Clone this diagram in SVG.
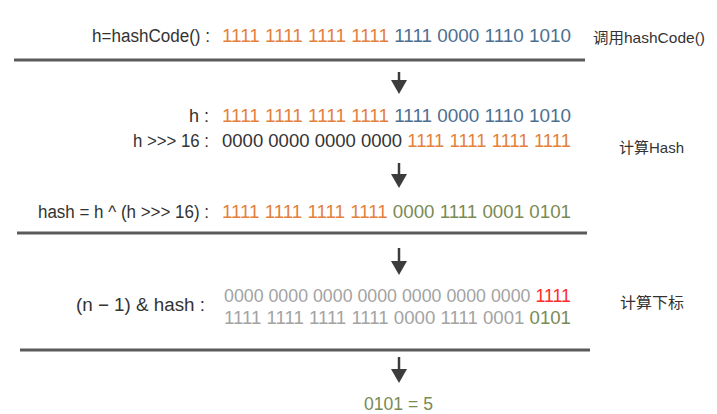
<svg xmlns="http://www.w3.org/2000/svg" width="717" height="414" viewBox="0 0 717 414">
<style>
text{font-family:"Liberation Sans","Noto Sans CJK SC",sans-serif;font-size:18px;fill:#333}
.lbl{text-anchor:end}
.bits{font-size:18.5px}
.bits2{font-size:17.5px}
.side{font-size:15px;fill:#333}
.o{fill:#e47f3c}
.b{fill:#4b6f90}
.g{fill:#7a8a55}
.k{fill:#333}
.gr{fill:#a3a3a3}
.r{fill:#ff2a2a}
.sep{stroke:#5a5a5a;stroke-width:3}
.arr{stroke:#3c3c3c;stroke-width:2.5;fill:none}
</style>
<defs>
<marker id="ah" markerUnits="userSpaceOnUse" markerWidth="16" markerHeight="18" refX="0" refY="8" orient="auto" viewBox="0 0 16 16">
<path d="M0,0 L14,8 L0,16 Z" fill="#3c3c3c"/>
</marker>
</defs>
<rect width="717" height="414" fill="#fff"/>
<g id="step-hashcode">
<text class="lbl" x="210" y="42" textLength="118" lengthAdjust="spacingAndGlyphs">h=hashCode() :</text>
<text class="bits" x="222" y="42" textLength="349" lengthAdjust="spacingAndGlyphs"><tspan class="o">1111 1111 1111 1111 </tspan><tspan class="b">1111 0000 1110 1010</tspan></text>
<text class="side" x="593" y="43" textLength="112" lengthAdjust="spacingAndGlyphs">调用hashCode()</text>
</g>
<g id="step-hash">
<text class="lbl" x="209" y="122">h :</text>
<text class="bits" x="222" y="122" textLength="349" lengthAdjust="spacingAndGlyphs"><tspan class="o">1111 1111 1111 1111 </tspan><tspan class="b">1111 0000 1110 1010</tspan></text>
<text class="lbl" x="209" y="147" textLength="76" lengthAdjust="spacingAndGlyphs">h &gt;&gt;&gt; 16 :</text>
<text class="bits" x="222" y="147" textLength="349" lengthAdjust="spacingAndGlyphs"><tspan class="k">0000 0000 0000 0000 </tspan><tspan class="o">1111 1111 1111 1111</tspan></text>
<text class="side" x="619" y="153" textLength="65" lengthAdjust="spacingAndGlyphs">计算Hash</text>
<text class="lbl" x="209" y="218" textLength="171" lengthAdjust="spacingAndGlyphs">hash = h ^ (h &gt;&gt;&gt; 16) :</text>
<text class="bits" x="222" y="218" textLength="349" lengthAdjust="spacingAndGlyphs"><tspan class="o">1111 1111 1111 1111 </tspan><tspan class="g">0000 1111 0001 0101</tspan></text>
</g>
<g id="step-index">
<text x="76" y="311" textLength="129" lengthAdjust="spacingAndGlyphs">(n  −  1) &amp; hash :</text>
<text class="bits2" x="224" y="302" textLength="347" lengthAdjust="spacingAndGlyphs"><tspan class="gr">0000 0000 0000 0000 0000 0000 0000 </tspan><tspan class="r">1111</tspan></text>
<text class="bits2" x="224" y="324" textLength="347" lengthAdjust="spacingAndGlyphs"><tspan class="gr">1111 1111 1111 1111 0000 1111 0001 </tspan><tspan class="g">0101</tspan></text>
<text class="side" x="620" y="308" textLength="64" lengthAdjust="spacingAndGlyphs">计算下标</text>
</g>
<g id="result">
<text class="g" x="364" y="410" textLength="69" lengthAdjust="spacingAndGlyphs">0101 = 5</text>
</g>
<g id="connectors">
<line class="sep" x1="14" y1="60" x2="585" y2="60"/>
<line class="sep" x1="17" y1="233" x2="587" y2="233"/>
<line class="sep" x1="20" y1="350" x2="590" y2="350"/>
<line class="arr" x1="399" y1="72" x2="399" y2="80" marker-end="url(#ah)"/>
<line class="arr" x1="399" y1="163" x2="399" y2="174" marker-end="url(#ah)"/>
<line class="arr" x1="399" y1="248" x2="399" y2="261" marker-end="url(#ah)"/>
<line class="arr" x1="399" y1="357" x2="399" y2="369" marker-end="url(#ah)"/>
</g>
</svg>
